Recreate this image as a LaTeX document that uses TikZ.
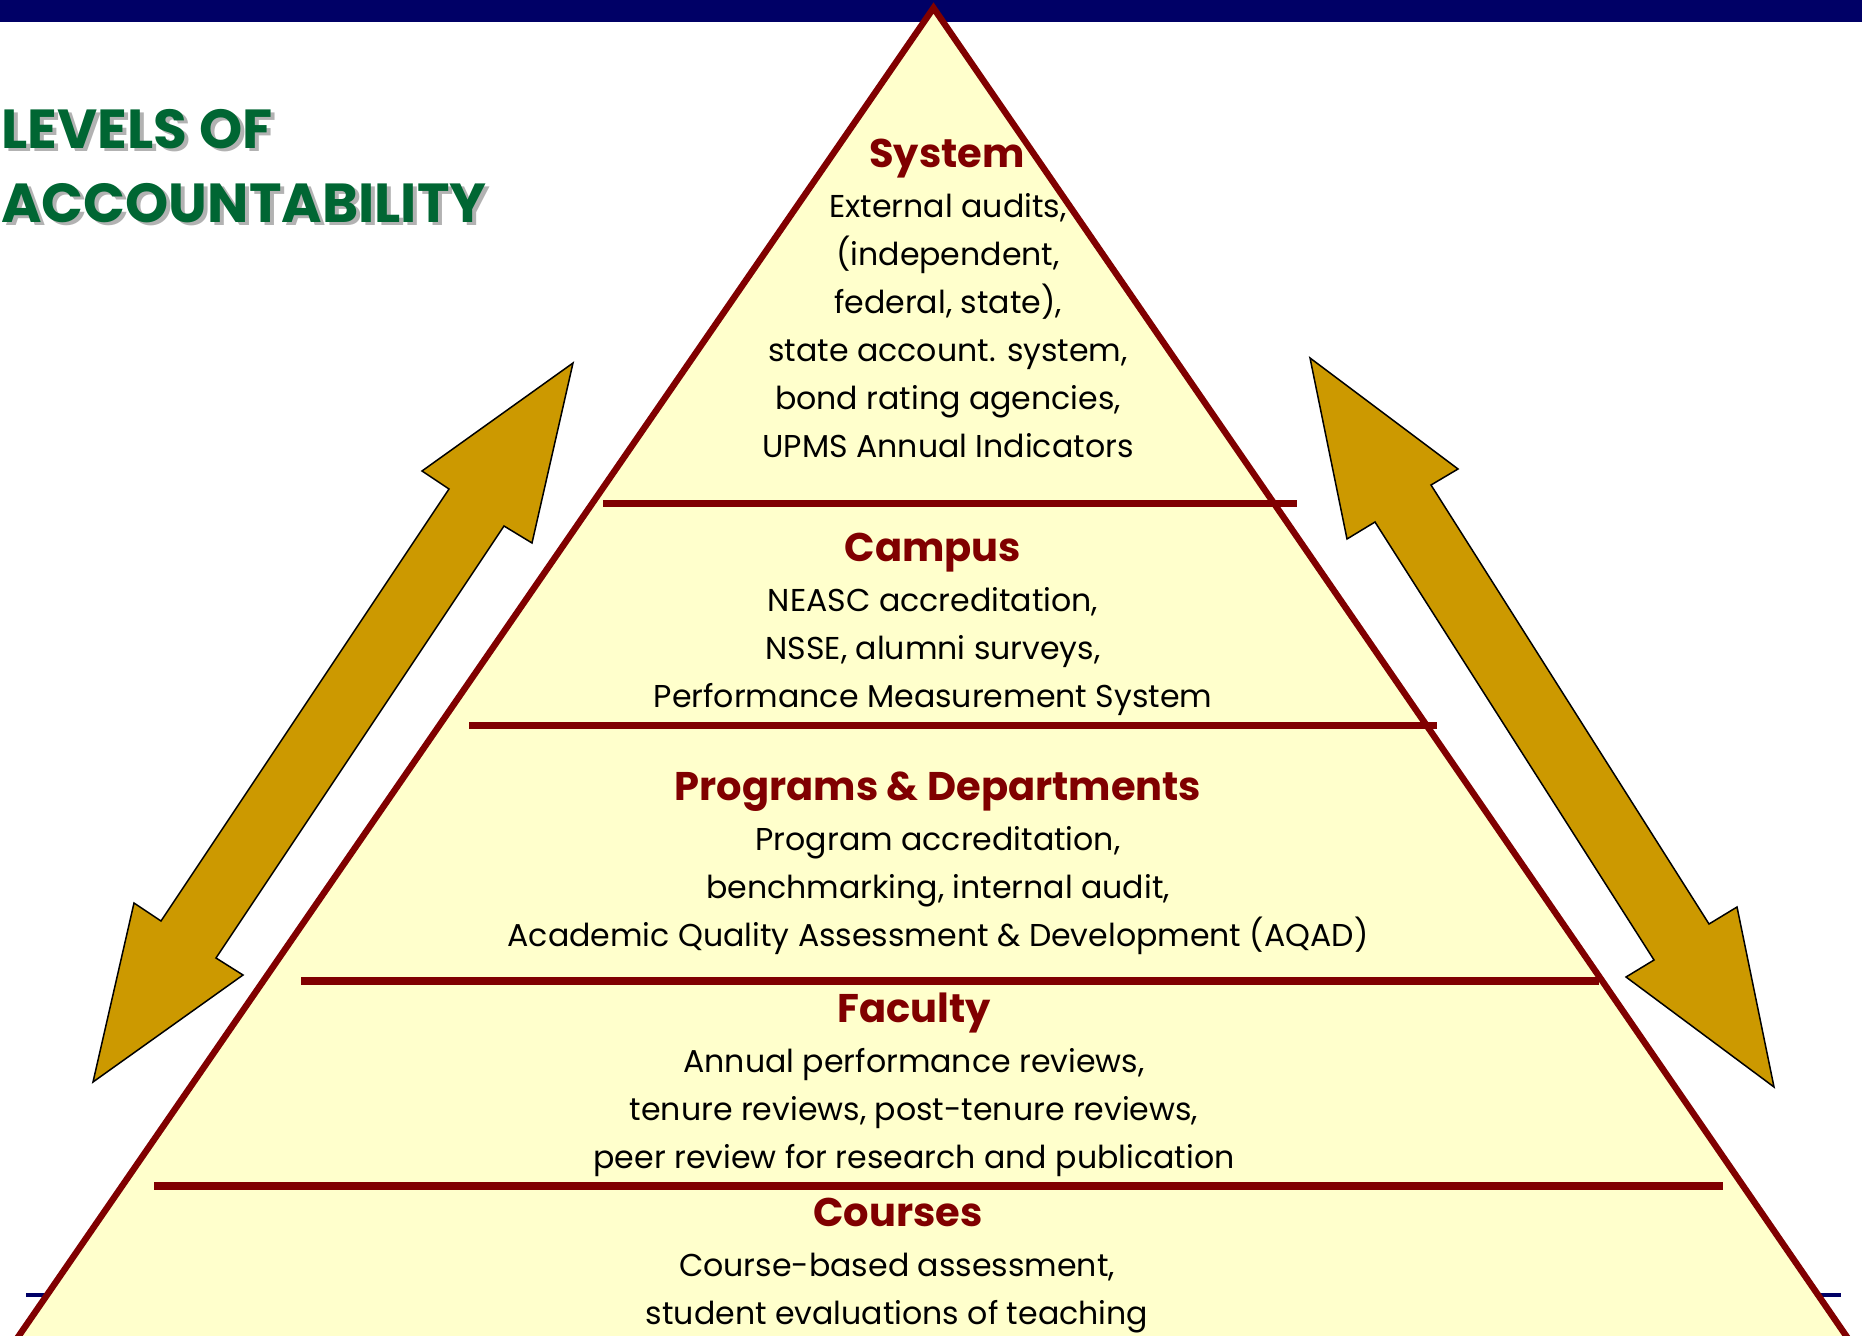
\documentclass[tikz,border=0pt]{standalone}
\usepackage{fontspec}
\setmainfont{Poppins}
\usepackage{tikz}
\usetikzlibrary{positioning}

\definecolor{navy}{HTML}{000066}
\definecolor{darkred}{HTML}{800000}
\definecolor{paleyellow}{HTML}{FFFFCC}
\definecolor{gold}{HTML}{CC9900}
\definecolor{titlegreen}{HTML}{006633}
\definecolor{shadowgray}{HTML}{B2B2B2}

\tikzset{
  level/.style={text=darkred, font=\bfseries\fontsize{20}{24}\selectfont, anchor=base, inner sep=0pt},
  % items are anchored on the baseline of their last line
  items/.style={text=black, align=center, font=\fontsize{15.8}{24}\selectfont, anchor=base, inner sep=0pt},
  divider/.style={draw=darkred, line width=3.8pt},
  bigarrow/.style={fill=gold, draw=black, line width=0.75pt, line join=miter},
  heading/.style={font=\bfseries\fontsize{27.5}{37}\selectfont, align=left, anchor=north west, inner sep=0pt}
}

\begin{document}
\begin{tikzpicture}[x=0.5pt,y=-0.5pt]
	\useasboundingbox (0,0) rectangle (1862,1336);
	\clip (0,0) rectangle (1862,1336);
	
	% top bar and footer rule
	\fill[navy] (0,0) rectangle (1862,22.5);
	\draw[navy, line width=1.8pt] (26,1295) -- (1841,1295);
	
	% pyramid
	\draw[fill=paleyellow, draw=darkred, line width=3.2pt, line join=miter] (933.5,8) -- (1849,1340) -- (16,1340) -- cycle;
	
	% dividers between the levels
	\draw[divider] (603,503.5) -- (1297,503.5);
	\draw[divider] (469,725.5) -- (1437,725.5);
	\draw[divider] (301,981) -- (1599,981);
	\draw[divider] (154,1186) -- (1723,1186);
	
	% levels
	\node[level] (system) at (947,168) {System};
	\node[items] (systemitems) at (948,458) {External audits,\\(independent,\\federal, state),\\state account. system,\\bond rating agencies,\\UPMS Annual Indicators};
	
	\node[level] (campus) at (933,561) {Campus};
	\node[items] (campusitems) at (933,707) {NEASC accreditation,\\NSSE, alumni surveys,\\Performance Measurement System};
	
	\node[level] (programs) at (938,800) {Programs \& Departments};
	\node[items] (programsitems) at (938,946) {Program accreditation,\\benchmarking, internal audit,\\Academic Quality Assessment \& Development (AQAD)};
	
	\node[level] (faculty) at (914,1022) {Faculty};
	\node[items] (facultyitems) at (914,1168) {Annual performance reviews,\\tenure reviews, post-tenure reviews,\\peer review for research and publication};
	
	\node[level] (courses) at (898,1226) {Courses};
	\node[items] (coursesitems) at (897,1324) {Course-based assessment,\\student evaluations of teaching};
	
	% arrows either side
	\draw[bigarrow] (573,363) -- (532,543) -- (504,526) -- (216,958) -- (243,975) -- (93,1082) -- (134,903) -- (161,921) -- (449,489) -- (422,471) -- cycle;
	\draw[bigarrow] (1310,358) -- (1458,469) -- (1431,485) -- (1709,924) -- (1737,907) -- (1774,1087) -- (1626,977) -- (1654,960) -- (1375,522) -- (1347,539) -- cycle;
	
	% title
	\node[heading, text=shadowgray] (titleshadow) at (5,112) {LEVELS OF\\ACCOUNTABILITY};
	\node[heading, text=titlegreen] (title) at (1,109) {LEVELS OF\\ACCOUNTABILITY};
\end{tikzpicture}
\end{document}
